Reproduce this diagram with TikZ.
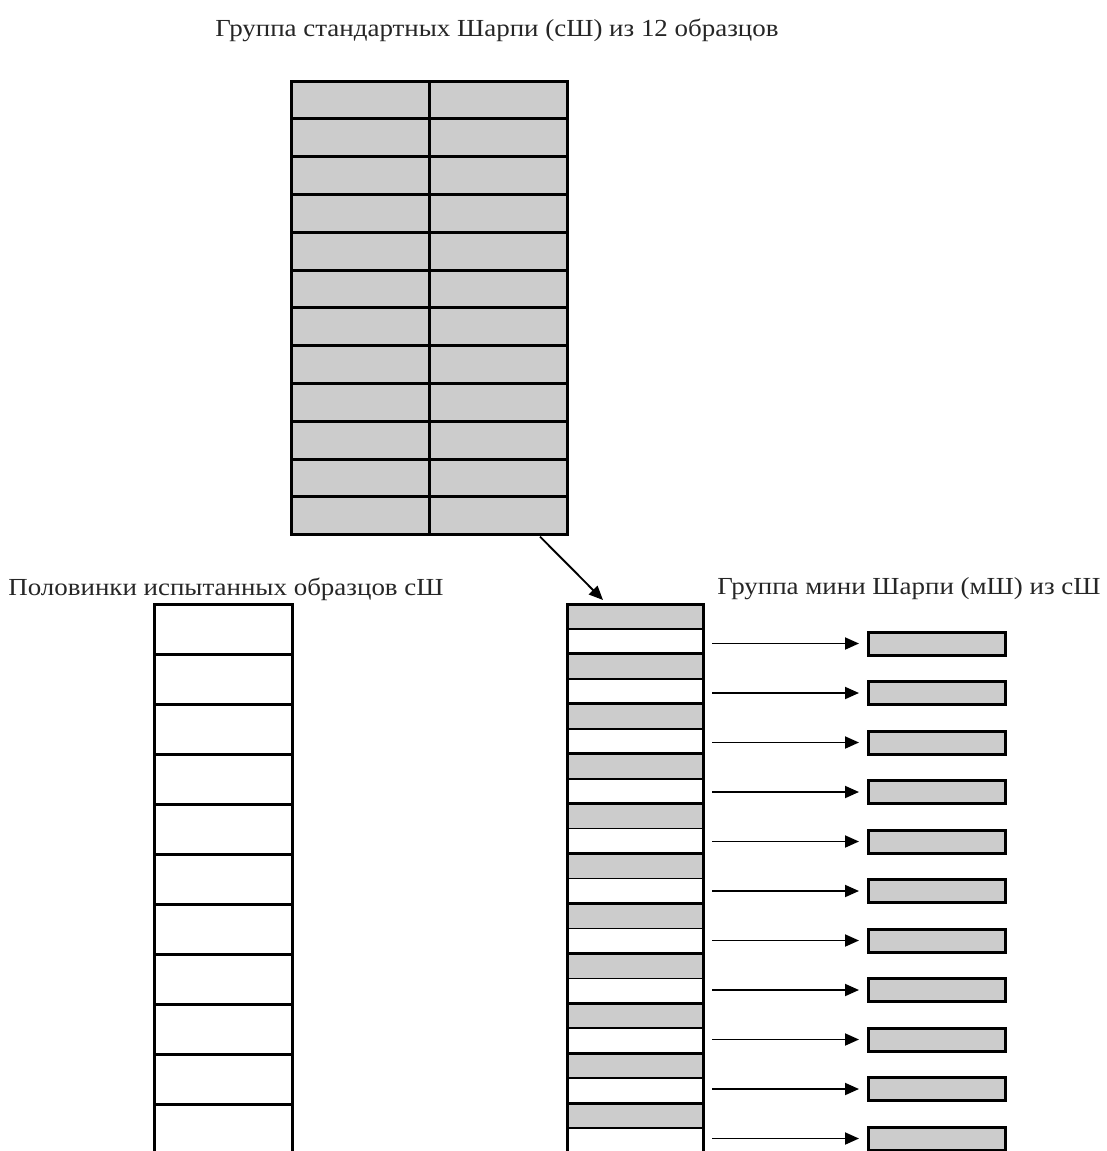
\documentclass[tikz,border=0pt]{standalone}
\usepackage{fontspec}
\setmainfont{Liberation Serif}
\newfontfamily\capfont[FakeStretch=1.1]{Liberation Serif}
\usetikzlibrary{arrows.meta,calc}
\definecolor{shade}{HTML}{CCCCCC}
\begin{document}
\begin{tikzpicture}[x=1pt,y=-1pt,
  cellbox/.style={draw, line width=3pt, fill=shade, minimum width=138pt, minimum height=37.8pt, inner sep=0pt, outer sep=0pt, anchor=north west},
  halfbox/.style={draw, line width=3pt, fill=white, minimum width=138pt, minimum height=50pt, inner sep=0pt, outer sep=0pt, anchor=north west},
  greyhalf/.style={draw, line width=1.6pt, fill=shade, minimum width=136pt, minimum height=25pt, inner sep=0pt, outer sep=0pt, anchor=north west},
  whitehalf/.style={draw, line width=1.6pt, fill=white, minimum width=136pt, minimum height=25pt, inner sep=0pt, outer sep=0pt, anchor=north west},
  pairbox/.style={draw, line width=3pt, minimum width=136pt, minimum height=50pt, inner sep=0pt, outer sep=0pt, anchor=north west},
  minibox/.style={draw, line width=3pt, fill=shade, minimum width=137pt, minimum height=23pt, inner sep=0pt, outer sep=0pt},
  link/.style={line width=1.9pt, -{Triangle[length=14pt,width=12pt]}},
  caption/.style={font=\capfont\fontsize{24.5}{28}\selectfont, inner sep=0pt, text=black!85}
]
\useasboundingbox (0,0) rectangle (1106,1151);
% title
\node[caption] (title) at (497,30) {Группа стандартных Шарпи (сШ) из 12 образцов};
% top grid
\foreach \i in {0,...,11} {
  \node[cellbox] (t-\i-1) at (291,{81+\i*37.8}) {};
  \node[cellbox] (t-\i-2) at (429,{81+\i*37.8}) {};
}
% left column
\node[caption] (lefttitle) at (226,589) {Половинки испытанных образцов сШ};
\foreach \j in {0,...,10} {
  \node[halfbox] (h-\j) at (154,{604+\j*50}) {};
}
% middle column
\node[caption] (righttitle) at (909,589) {Группа мини Шарпи (мШ) из сШ};
\foreach \j in {0,...,10} {
  \node[greyhalf] (g-\j) at (567,{604+\j*49.9}) {};
  \node[whitehalf] (w-\j) at (567,{629+\j*49.9}) {};
  \node[pairbox] (m-\j) at (567,{604+\j*49.9}) {};
}
% mini boxes and arrows
\foreach \j in {0,...,10} {
  \node[minibox] (s-\j) at (936.5,{643.5+\j*49.5}) {};
  \coordinate (a-\j) at ($(w-\j.east)+(9,0)$);
  \draw[link, shorten >=9pt] (a-\j |- s-\j.west) -- (s-\j.west);
}
% diagonal arrow
\coordinate (dstart) at ($(t-11-2.south)+(42,2)$);
\coordinate (dend) at ($(m-0.north)+(-32,-4)$);
\draw[link] (dstart) -- (dend);
\end{tikzpicture}
\end{document}
